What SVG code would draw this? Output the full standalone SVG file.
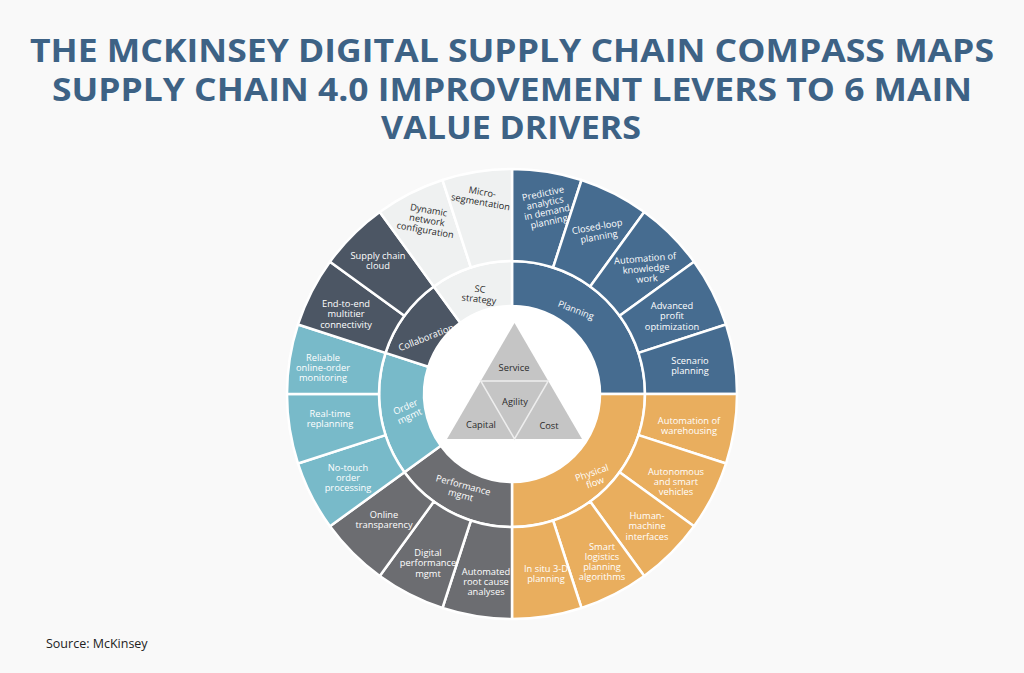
<svg xmlns="http://www.w3.org/2000/svg" width="1024" height="673" viewBox="0 0 1024 673">
<style>
.seg{stroke:#ffffff;stroke-width:2.5;stroke-linejoin:round}
.pl{fill:#466c90}.pf{fill:#e9ae5e}.pm{fill:#6c6d71}.om{fill:#78bac9}.co{fill:#4c5664}.sc{fill:#eff1f1}
.t{font-family:"Open Sans","Noto Sans",sans-serif;font-size:9.3px;text-anchor:middle}
.w{fill:#ffffff}.d{fill:#2b2b2b}
.title{font-family:"Open Sans","Noto Sans",sans-serif;font-weight:700;font-size:33px;fill:#3d6285;text-anchor:middle}
</style>
<rect width="1024" height="673" fill="#f9f9f9"/>
<g id="title">
<text class="title" x="512" y="62" textLength="964" lengthAdjust="spacingAndGlyphs">THE MCKINSEY DIGITAL SUPPLY CHAIN COMPASS MAPS</text>
<text class="title" x="512" y="101" textLength="920" lengthAdjust="spacingAndGlyphs">SUPPLY CHAIN 4.0 IMPROVEMENT LEVERS TO 6 MAIN</text>
<text class="title" x="511" y="139" textLength="260" lengthAdjust="spacingAndGlyphs">VALUE DRIVERS</text>
</g>
<circle cx="512" cy="394" r="88" fill="#ffffff"/>

<g id="planning">
<path class="seg pl" d="M512,261 A133,133 0 0 1 645,394 L600,394 A88,88 0 0 0 512,306 Z"/>
<text class="t w" transform="translate(576,310) rotate(21)" y="3.3">Planning</text>
</g>
<g id="physical-flow">
<path class="seg pf" d="M645,394 A133,133 0 0 1 512,527 L512,482 A88,88 0 0 0 600,394 Z"/>
<text class="t w" transform="translate(593.5,477.5) rotate(-19)"><tspan x="0" y="-1.8">Physical</tspan><tspan x="0" y="8.4">flow</tspan></text>
</g>
<g id="performance-mgmt">
<path class="seg pm" d="M512,527 A133,133 0 0 1 404.40,472.18 L440.81,445.73 A88,88 0 0 0 512,482 Z"/>
<text class="t w" transform="translate(462,490) rotate(15)"><tspan x="0" y="-1.8">Performance</tspan><tspan x="0" y="8.4">mgmt</tspan></text>
</g>
<g id="order-mgmt">
<path class="seg om" d="M404.40,472.18 A133,133 0 0 1 385.51,352.90 L428.31,366.81 A88,88 0 0 0 440.81,445.73 Z"/>
<text class="t w" transform="translate(407.5,411.5) rotate(-24)"><tspan x="0" y="-1.8">Order</tspan><tspan x="0" y="8.4">mgmt</tspan></text>
</g>
<g id="collaboration">
<path class="seg co" d="M385.51,352.90 A133,133 0 0 1 433.82,286.40 L460.27,322.81 A88,88 0 0 0 428.31,366.81 Z"/>
<text class="t w" transform="translate(426,337.5) rotate(-21.5)" y="3.3">Collaboration</text>
</g>
<g id="sc-strategy">
<path class="seg sc" d="M433.82,286.40 A133,133 0 0 1 512,261 L512,306 A88,88 0 0 0 460.27,322.81 Z"/>
<text class="t d" transform="translate(479.5,294) rotate(6)"><tspan x="0" y="-1.8">SC</tspan><tspan x="0" y="8.4">strategy</tspan></text>
</g>

<g id="predictive-analytics">
<path class="seg pl" d="M512,169 A225,225 0 0 1 581.53,180.01 L553.10,267.51 A133,133 0 0 0 512,261 Z"/>
<text class="t w" transform="translate(546,207.5) rotate(-12)"><tspan x="0" y="-11.2">Predictive</tspan><tspan x="0" y="-1.6">analytics</tspan><tspan x="0" y="8">in demand</tspan><tspan x="0" y="17.6">planning</tspan></text>
</g>
<g id="closed-loop-planning">
<path class="seg pl" d="M581.53,180.01 A225,225 0 0 1 644.25,211.97 L590.18,286.40 A133,133 0 0 0 553.10,267.51 Z"/>
<text class="t w" transform="translate(598,231.5) rotate(-10)"><tspan x="0" y="-1.8">Closed-loop</tspan><tspan x="0" y="8.4">planning</tspan></text>
</g>
<g id="automation-knowledge-work">
<path class="seg pl" d="M644.25,211.97 A225,225 0 0 1 694.03,261.75 L619.60,315.82 A133,133 0 0 0 590.18,286.40 Z"/>
<text class="t w" transform="translate(646,268.5) rotate(-5)"><tspan x="0" y="-6.9">Automation of</tspan><tspan x="0" y="3.3">knowledge</tspan><tspan x="0" y="13.5">work</tspan></text>
</g>
<g id="advanced-profit-optimization">
<path class="seg pl" d="M694.03,261.75 A225,225 0 0 1 725.99,324.47 L638.49,352.90 A133,133 0 0 0 619.60,315.82 Z"/>
<text class="t w" transform="translate(672,316)"><tspan x="0" y="-6.9">Advanced</tspan><tspan x="0" y="3.3">profit</tspan><tspan x="0" y="13.5">optimization</tspan></text>
</g>
<g id="scenario-planning">
<path class="seg pl" d="M725.99,324.47 A225,225 0 0 1 737,394 L645,394 A133,133 0 0 0 638.49,352.90 Z"/>
<text class="t w" transform="translate(690,366)"><tspan x="0" y="-1.8">Scenario</tspan><tspan x="0" y="8.4">planning</tspan></text>
</g>

<g id="automation-warehousing">
<path class="seg pf" d="M737,394 A225,225 0 0 1 725.99,463.53 L638.49,435.10 A133,133 0 0 0 645,394 Z"/>
<text class="t w" transform="translate(689,425.5)"><tspan x="0" y="-1.8">Automation of</tspan><tspan x="0" y="8.4">warehousing</tspan></text>
</g>
<g id="autonomous-vehicles">
<path class="seg pf" d="M725.99,463.53 A225,225 0 0 1 694.03,526.25 L619.60,472.18 A133,133 0 0 0 638.49,435.10 Z"/>
<text class="t w" transform="translate(676,481.5)"><tspan x="0" y="-6.9">Autonomous</tspan><tspan x="0" y="3.3">and smart</tspan><tspan x="0" y="13.5">vehicles</tspan></text>
</g>
<g id="human-machine-interfaces">
<path class="seg pf" d="M694.03,526.25 A225,225 0 0 1 644.25,576.03 L590.18,501.60 A133,133 0 0 0 619.60,472.18 Z"/>
<text class="t w" transform="translate(647,526)"><tspan x="0" y="-6.9">Human-</tspan><tspan x="0" y="3.3">machine</tspan><tspan x="0" y="13.5">interfaces</tspan></text>
</g>
<g id="smart-logistics">
<path class="seg pf" d="M644.25,576.03 A225,225 0 0 1 581.53,607.99 L553.10,520.49 A133,133 0 0 0 590.18,501.60 Z"/>
<text class="t w" transform="translate(602,561.5)"><tspan x="0" y="-12">Smart</tspan><tspan x="0" y="-1.8">logistics</tspan><tspan x="0" y="8.4">planning</tspan><tspan x="0" y="18.6">algorithms</tspan></text>
</g>
<g id="in-situ-planning">
<path class="seg pf" d="M581.53,607.99 A225,225 0 0 1 512,619 L512,527 A133,133 0 0 0 553.10,520.49 Z"/>
<text class="t w" transform="translate(546,574)"><tspan x="0" y="-1.8">In situ 3-D</tspan><tspan x="0" y="8.4">planning</tspan></text>
</g>

<g id="automated-root-cause">
<path class="seg pm" d="M512,619 A225,225 0 0 1 442.47,607.99 L470.90,520.49 A133,133 0 0 0 512,527 Z"/>
<text class="t w" transform="translate(486,581.5)"><tspan x="0" y="-6.9">Automated</tspan><tspan x="0" y="3.3">root cause</tspan><tspan x="0" y="13.5">analyses</tspan></text>
</g>
<g id="digital-performance-mgmt">
<path class="seg pm" d="M442.47,607.99 A225,225 0 0 1 379.75,576.03 L433.82,501.60 A133,133 0 0 0 470.90,520.49 Z"/>
<text class="t w" transform="translate(428,563)"><tspan x="0" y="-6.9">Digital</tspan><tspan x="0" y="3.3">performance</tspan><tspan x="0" y="13.5">mgmt</tspan></text>
</g>
<g id="online-transparency">
<path class="seg pm" d="M379.75,576.03 A225,225 0 0 1 329.97,526.25 L404.40,472.18 A133,133 0 0 0 433.82,501.60 Z"/>
<text class="t w" transform="translate(384,520)"><tspan x="0" y="-1.8">Online</tspan><tspan x="0" y="8.4">transparency</tspan></text>
</g>

<g id="no-touch-order">
<path class="seg om" d="M329.97,526.25 A225,225 0 0 1 298.01,463.53 L385.51,435.10 A133,133 0 0 0 404.40,472.18 Z"/>
<text class="t w" transform="translate(348,477.5)"><tspan x="0" y="-6.9">No-touch</tspan><tspan x="0" y="3.3">order</tspan><tspan x="0" y="13.5">processing</tspan></text>
</g>
<g id="real-time-replanning">
<path class="seg om" d="M298.01,463.53 A225,225 0 0 1 287,394 L379,394 A133,133 0 0 0 385.51,435.10 Z"/>
<text class="t w" transform="translate(330,419)"><tspan x="0" y="-1.8">Real-time</tspan><tspan x="0" y="8.4">replanning</tspan></text>
</g>
<g id="reliable-monitoring">
<path class="seg om" d="M287,394 A225,225 0 0 1 298.01,324.47 L385.51,352.90 A133,133 0 0 0 379,394 Z"/>
<text class="t w" transform="translate(323,367.5)"><tspan x="0" y="-6.9">Reliable</tspan><tspan x="0" y="3.3">online-order</tspan><tspan x="0" y="13.5">monitoring</tspan></text>
</g>

<g id="end-to-end-connectivity">
<path class="seg co" d="M298.01,324.47 A225,225 0 0 1 329.97,261.75 L404.40,315.82 A133,133 0 0 0 385.51,352.90 Z"/>
<text class="t w" transform="translate(346,314)"><tspan x="0" y="-6.9">End-to-end</tspan><tspan x="0" y="3.3">multitier</tspan><tspan x="0" y="13.5">connectivity</tspan></text>
</g>
<g id="supply-chain-cloud">
<path class="seg co" d="M329.97,261.75 A225,225 0 0 1 379.75,211.97 L433.82,286.40 A133,133 0 0 0 404.40,315.82 Z"/>
<text class="t w" transform="translate(378,260.5)"><tspan x="0" y="-1.8">Supply chain</tspan><tspan x="0" y="8.4">cloud</tspan></text>
</g>

<g id="dynamic-network-configuration">
<path class="seg sc" d="M379.75,211.97 A225,225 0 0 1 442.47,180.01 L470.90,267.51 A133,133 0 0 0 433.82,286.40 Z"/>
<text class="t d" transform="translate(427,220) rotate(10)"><tspan x="0" y="-6.9">Dynamic</tspan><tspan x="0" y="3.3">network</tspan><tspan x="0" y="13.5">configuration</tspan></text>
</g>
<g id="micro-segmentation">
<path class="seg sc" d="M442.47,180.01 A225,225 0 0 1 512,169 L512,261 A133,133 0 0 0 470.90,267.51 Z"/>
<text class="t d" transform="translate(481.5,197) rotate(10)"><tspan x="0" y="-1.8">Micro-</tspan><tspan x="0" y="8.4">segmentation</tspan></text>
</g>

<g id="value-drivers">
<polygon points="514.5,323 582,439 447,439" fill="#c5c5c5"/>
<polygon points="480.75,381 548.25,381 514.5,439" fill="none" stroke="#eeeeee" stroke-width="1.5"/>
<text class="t d" x="514" y="370.5">Service</text>
<text class="t d" x="515" y="404.5">Agility</text>
<text class="t d" x="481" y="427.5">Capital</text>
<text class="t d" x="549" y="428.5">Cost</text>
</g>
<g id="connectors"></g>
<text x="46" y="648" font-family="Open Sans, Noto Sans, sans-serif" font-size="12.5" fill="#222222">Source: McKinsey</text>
</svg>
